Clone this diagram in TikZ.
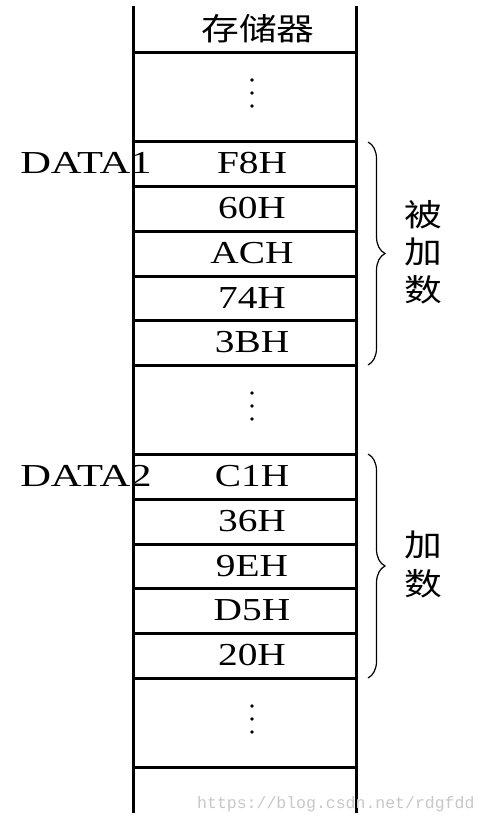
\documentclass[tikz,border=0pt]{standalone}
\usepackage{fontspec}
\setmainfont{Liberation Serif}
\newfontfamily\cjk{Noto Sans CJK SC}
\newfontfamily\wmfont{Liberation Mono}
\usetikzlibrary{decorations.pathreplacing}
\begin{document}
\begin{tikzpicture}[x=1pt,y=-1pt,
  gridline/.style={line width=3pt},
  val/.style={font=\fontsize{32}{32}\selectfont, xscale=1.23, anchor=base, inner sep=0pt},
  lbl/.style={font=\fontsize{32}{32}\selectfont, xscale=1.33, anchor=base west, inner sep=0pt},
  zh/.style={font=\cjk\fontsize{31}{31}\selectfont, xscale=1.22, anchor=base, inner sep=0pt},
  bracestyle/.style={decorate, decoration={brace, amplitude=17pt}, line width=1.2pt},
  dotstyle/.style={fill=black}
]
\useasboundingbox (0,0) rectangle (487,822);
% columns
\draw[gridline] (133,6) -- (133,813);
\draw[gridline] (356,6) -- (356,813);
% rows
\foreach \y in {52,141,186,231,276,320,365,454,499,544,588,633,678,767}
  \draw[gridline] (133,\y) -- (356,\y);
% title
\node[zh] (title) at (258,40) {存储器};
% dots
\foreach \y in {80,93,106,393,406,419,706,719,732}
  \fill[dotstyle] (252,\y) circle (1.8);
% first block
\node[lbl] (d1) at (20,173) {DATA1};
\node[val] (a1) at (252,173) {F8H};
\node[val] (a2) at (252,218) {60H};
\node[val] (a3) at (252,263) {ACH};
\node[val] (a4) at (252,308) {74H};
\node[val] (a5) at (252,352) {3BH};
% second block
\node[lbl] (d2) at (20,486) {DATA2};
\node[val] (b1) at (252,486) {C1H};
\node[val] (b2) at (252,531) {36H};
\node[val] (b3) at (252,576) {9EH};
\node[val] (b4) at (252,620) {D5H};
\node[val] (b5) at (252,665) {20H};
% braces
\coordinate (br1t) at (368,142);
\coordinate (br1b) at (368,365);
\coordinate (br2t) at (368,454);
\coordinate (br2b) at (368,678);
\draw[bracestyle] (br1t) -- (br1b);
\draw[bracestyle] (br2t) -- (br2b);
% labels
\node[zh] (z1) at (423,226) {被};
\node[zh] (z2) at (423,263) {加};
\node[zh] (z3) at (423,301) {数};
\node[zh] (z4) at (423,556) {加};
\node[zh] (z5) at (423,595) {数};
% watermark
\node[font=\wmfont\fontsize{16.5}{16.5}\selectfont, text=black!22, anchor=base west, inner sep=0pt] (wm) at (197,808) {https://blog.csdn.net/rdgfdd};
\end{tikzpicture}
\end{document}
